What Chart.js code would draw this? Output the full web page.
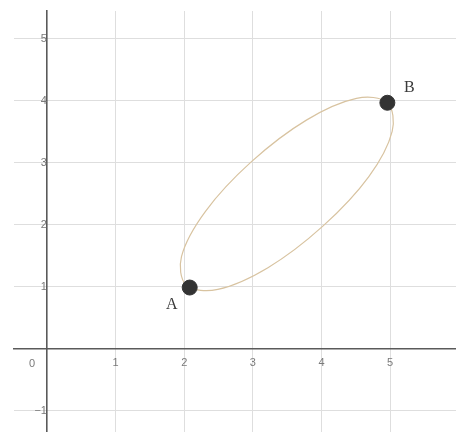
<!DOCTYPE html>
<html>
<head>
<meta charset="utf-8">
<script src="https://cdn.jsdelivr.net/npm/chart.js@4/dist/chart.umd.min.js"></script>
<style>
  html, body { margin: 0; padding: 0; background: #ffffff; }
  #wrap { width: 456px; height: 432px; }
</style>
</head>
<body>
<div id="wrap"><canvas id="c" width="456" height="432"></canvas></div>
<script>
// ---- data ----
const xTicks = [0, 1, 2, 3, 4, 5];
const yTicks = [-1, 0, 1, 2, 3, 4, 5];
const xRange = [-0.48, 5.96];
const yRange = [-1.34, 5.45];

const pointNames = ['A', 'B'];
const pointX = [2.08, 4.96];
const pointY = [0.99, 3.97];

// points (closed loop)
const ellipseX = [4.96, 4.51, 3.78, 2.98, 2.31, 1.96, 2.03, 2.49, 3.22, 4.02, 4.69, 5.03];
const ellipseY = [3.97, 4.04, 3.69, 3.02, 2.22, 1.49, 1.03, 0.96, 1.31, 1.98, 2.78, 3.51];

// ---- build datasets ----
const loopIdx = ellipseX.map((_, i) => i).concat([0, 1, 2]);
const ellipseData = loopIdx.map(i => ({ x: ellipseX[i], y: ellipseY[i] }));
const pointData = pointX.map((x, i) => ({ x: x, y: pointY[i] }));
const lastSeg = loopIdx.length - 2;

const fmt = v => (v < 0 ? '\u2212' + Math.abs(v) : String(v));
const noPad = s => { s.paddingTop = 0; s.paddingBottom = 0; s.paddingLeft = 0; s.paddingRight = 0; };

const labelPlugin = {
  id: 'labels',
  afterDatasetsDraw(chart) {
    const ctx = chart.ctx;
    const meta = chart.getDatasetMeta(1);
    ctx.save();
    ctx.fillStyle = '#3a3a3a';
    ctx.font = '16px "Liberation Serif", "DejaVu Serif", serif';
    ctx.textAlign = 'center';
    ctx.textBaseline = 'middle';
    const offs = [[-18, 17], [22, -15]];
    meta.data.forEach((el, i) => {
      ctx.fillText(pointNames[i], el.x + offs[i][0], el.y + offs[i][1]);
    });
    // origin label
    const xs = chart.scales.x, ys = chart.scales.y;
    ctx.fillStyle = '#7a7a7a';
    ctx.font = '11px "Liberation Sans", Arial, sans-serif';
    ctx.fillText('0', xs.getPixelForValue(0) - 15, ys.getPixelForValue(0) + 15);
    ctx.restore();
  }
};

new Chart(document.getElementById('c'), {
  type: 'scatter',
  data: {
    datasets: [
      {
        data: ellipseData,
        order: 2,
        showLine: true,
        tension: 0.35,
        borderColor: '#d8c3a0',
        borderWidth: 1.2,
        pointRadius: 0,
        pointHoverRadius: 0,
        segment: {
          borderColor: c => (c.p0DataIndex === 0 || c.p0DataIndex === lastSeg) ? 'rgba(0,0,0,0)' : undefined
        }
      },
      {
        data: pointData,
        order: 1,
        showLine: false,
        pointRadius: 7.5,
        pointBackgroundColor: '#333333',
        pointBorderColor: '#333333',
        pointBorderWidth: 1
      }
    ]
  },
  options: {
    responsive: false,
    animation: false,
    devicePixelRatio: 1,
    layout: { autoPadding: false, padding: { left: 14, top: 11, right: 0, bottom: 0 } },
    plugins: { legend: { display: false }, tooltip: { enabled: false } },
    scales: {
      x: {
        type: 'linear',
        min: xRange[0],
        max: xRange[1],
        position: { y: 0 },
        afterBuildTicks: s => { s.ticks = xTicks.map(v => ({ value: v })); },
        afterFit: noPad,
        grid: { color: '#dedede', lineWidth: 1, drawTicks: false },
        border: { display: true, color: '#5a5a5a', width: 1.6 },
        ticks: {
          padding: 7,
          color: '#7a7a7a',
          font: { family: '"Liberation Sans", Arial, sans-serif', size: 11 },
          callback: v => (v === 0 ? '' : fmt(v))
        }
      },
      y: {
        type: 'linear',
        min: yRange[0],
        max: yRange[1],
        position: { x: 0 },
        afterBuildTicks: s => { s.ticks = yTicks.map(v => ({ value: v })); },
        afterFit: noPad,
        grid: { color: '#dedede', lineWidth: 1, drawTicks: false },
        border: { display: true, color: '#5a5a5a', width: 1.6 },
        ticks: {
          padding: 10,
          color: '#7a7a7a',
          font: { family: '"Liberation Sans", Arial, sans-serif', size: 11 },
          callback: v => (v === 0 ? '' : fmt(v))
        }
      }
    }
  },
  plugins: [labelPlugin]
});
</script>
</body>
</html>
